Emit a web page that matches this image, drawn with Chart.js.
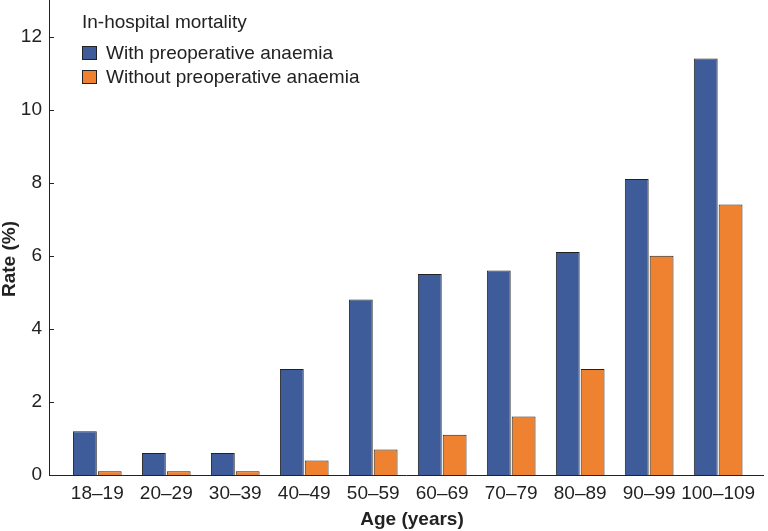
<!DOCTYPE html>
<html>
<head>
<meta charset="utf-8">
<script src="https://cdn.jsdelivr.net/npm/chart.js@4.4.1/dist/chart.umd.min.js"></script>
<style>
    html, body { margin: 0; padding: 0; background: #fff; }
    #wrap { width: 768px; height: 531px; }
</style>
</head>
<body>
<div id="wrap"><canvas id="mortalityChart" width="768" height="531"></canvas></div>
<script>
const ageGroups = ['18–19', '20–29', '30–39', '40–49', '50–59', '60–69', '70–79', '80–89', '90–99', '100–109'];
const withAnaemia = [1.2, 0.6, 0.6, 2.9, 4.8, 5.5, 5.6, 6.1, 8.1, 11.4];
const withoutAnaemia = [0.1, 0.1, 0.1, 0.4, 0.7, 1.1, 1.6, 2.9, 6.0, 7.4];
const rateTicks = [0, 2, 4, 6, 8, 10, 12];
const seriesNames = ['With preoperative anaemia', 'Without preoperative anaemia'];
const legendTitle = 'In-hospital mortality';
const xTitle = 'Age (years)';
const yTitle = 'Rate (%)';

const FONT = "'Liberation Sans', Arial, Helvetica, sans-serif";
const INK = '#222';
const BLUE = '#3e5c9a';
const ORANGE = '#ee8231';
const SIZE = 19;

Chart.defaults.font.family = FONT;
Chart.defaults.color = INK;

// legend, axis titles and the inward tick marks on the y axis
const extras = {
    id: 'extras',
    afterDraw(chart) {
        const ctx = chart.ctx;
        const area = chart.chartArea;
        const yScale = chart.scales.y;
        ctx.save();

        ctx.strokeStyle = INK;
        ctx.lineWidth = 1;
        rateTicks.forEach(t => {
            const py = Math.round(yScale.getPixelForValue(t)) + 0.5;
            ctx.beginPath();
            ctx.moveTo(area.left, py);
            ctx.lineTo(area.left + 5, py);
            ctx.stroke();
        });

        ctx.fillStyle = INK;
        ctx.font = `bold ${SIZE}px ${FONT}`;
        ctx.textAlign = 'center';
        ctx.textBaseline = 'alphabetic';
        ctx.fillText(xTitle, 412, 525);
        ctx.save();
        ctx.translate(15, 259);
        ctx.rotate(-Math.PI / 2);
        ctx.fillText(yTitle, 0, 0);
        ctx.restore();

        // legend
        ctx.textAlign = 'left';
        ctx.font = `${SIZE}px ${FONT}`;
        ctx.fillText(legendTitle, 82, 28);
        const colors = chart.data.datasets.map(ds => ds.backgroundColor);
        seriesNames.forEach((name, i) => {
            const top = 46 + i * 24;
            ctx.fillStyle = colors[i];
            ctx.fillRect(82, top, 15, 14);
            ctx.strokeStyle = INK;
            ctx.strokeRect(82.5, top + 0.5, 14, 13);
            ctx.fillStyle = INK;
            ctx.fillText(name, 106, top + 12.5);
        });
        ctx.restore();
    }
};

const ctx = document.getElementById('mortalityChart').getContext('2d');
new Chart(ctx, {
    type: 'bar',
    data: {
        datasets: [{
            label: seriesNames[0],
            data: withAnaemia.map((v, i) => ({ x: i, y: v })),
            backgroundColor: BLUE,
            borderColor: INK,
            borderWidth: 1
        }, {
            label: seriesNames[1],
            data: withoutAnaemia.map((v, i) => ({ x: i, y: v })),
            backgroundColor: ORANGE,
            borderColor: INK,
            borderWidth: 1
        }]
    },
    options: {
        responsive: false,
        animation: false,
        categoryPercentage: 0.72,
        barPercentage: 0.96,
        layout: { padding: { left: 0, right: 5, top: 0, bottom: 0 } },
        plugins: {
            legend: { display: false },
            tooltip: { enabled: false }
        },
        scales: {
            x: {
                type: 'linear',
                offset: false,
                min: -0.7,
                max: 9.65,
                grid: { display: false, drawTicks: false, offset: false },
                border: { display: true, color: INK, width: 1 },
                afterBuildTicks: scale => {
                    scale.ticks = ageGroups.map((_, i) => ({ value: i }));
                },
                afterFit: scale => {
                    scale.height = 56;
                    scale.paddingLeft = 0;
                    scale.paddingRight = 0;
                },
                ticks: {
                    autoSkip: false,
                    maxRotation: 0,
                    padding: 7,
                    color: INK,
                    font: { size: SIZE },
                    callback: value => ageGroups[value] ?? ''
                }
            },
            y: {
                min: 0,
                max: 13,
                grid: { display: false, drawTicks: false },
                border: { display: true, color: INK, width: 1 },
                afterBuildTicks: scale => {
                    scale.ticks = rateTicks.map(v => ({ value: v }));
                },
                afterFit: scale => {
                    scale.width = 49;
                    scale.paddingTop = 0;
                    scale.paddingBottom = 0;
                },
                ticks: {
                    padding: 7,
                    color: INK,
                    font: { size: SIZE }
                }
            }
        }
    },
    plugins: [extras]
});
</script>
</body>
</html>
